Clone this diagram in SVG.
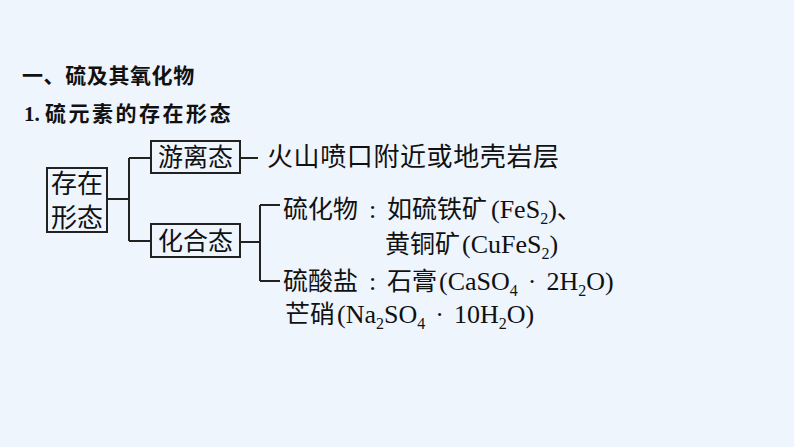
<svg xmlns="http://www.w3.org/2000/svg" width="794" height="447" viewBox="0 0 794 447">
<style>
.cjk{font-family:"Noto Sans CJK SC","Noto Sans CJK TC",sans-serif;fill:#111}
.lat{font-family:"Liberation Serif",serif;fill:#111}
.h{font-weight:bold}
.box{fill:none;stroke:#222;stroke-width:2}
.ln{fill:none;stroke:#222;stroke-width:2}
.sub{font-size:16px}
</style>
<rect width="794" height="447" fill="#eef5fd"/>
<g id="title">
<text x="22" y="82.5" class="cjk h" font-size="21" letter-spacing="0.6">一、硫及其氧化物</text>
<text y="120.5" font-size="21"><tspan x="24" class="lat h">1.</tspan><tspan x="45" class="cjk h" letter-spacing="2.5">硫元素的存在形态</tspan></text>
</g>
<g id="connectors">
<path class="ln" d="M107 199H129M129 158V241M129 158H151M129 241H151"/>
<path class="ln" d="M240 158H258"/>
<path class="ln" d="M240 242H260M260 205V281M260 205H280M260 281H280"/>
</g>
<g id="node-cunzai">
<rect class="box" x="47" y="168" width="60" height="64"/>
<text x="77" y="193" class="cjk" font-size="26" text-anchor="middle">存在</text>
<text x="77" y="227" class="cjk" font-size="26" text-anchor="middle">形态</text>
</g>
<g id="node-youli">
<rect class="box" x="151" y="141" width="89" height="32"/>
<text x="195.5" y="165.5" class="cjk" font-size="25" text-anchor="middle">游离态</text>
</g>
<g id="node-huahe">
<rect class="box" x="151" y="224" width="89" height="33"/>
<text x="195.5" y="250" class="cjk" font-size="25" text-anchor="middle">化合态</text>
</g>
<g id="node-volcano">
<text x="267" y="166" class="cjk" font-size="26" letter-spacing="0.6">火山喷口附近或地壳岩层</text>
</g>
<g id="node-sulfide">
<text y="218" font-size="25"><tspan x="283" class="cjk">硫化物</tspan><tspan x="369" class="lat" font-size="26">:</tspan><tspan x="387" class="cjk">如硫铁矿</tspan><tspan x="491" class="lat" font-size="26">(FeS</tspan><tspan class="lat sub" dy="6">2</tspan><tspan class="lat" font-size="26" dy="-6">)</tspan><tspan class="cjk">、</tspan></text>
<text y="253" font-size="25"><tspan x="385" class="cjk">黄铜矿</tspan><tspan x="462" class="lat" font-size="26">(CuFeS</tspan><tspan class="lat sub" dy="6">2</tspan><tspan class="lat" font-size="26" dy="-6">)</tspan></text>
</g>
<g id="node-sulfate">
<text y="290" font-size="25"><tspan x="283" class="cjk">硫酸盐</tspan><tspan x="369" class="lat" font-size="26">:</tspan><tspan x="387" class="cjk">石膏</tspan><tspan x="439" class="lat" font-size="26">(CaSO</tspan><tspan class="lat sub" dy="6">4</tspan><tspan class="lat" font-size="26" dy="-6" dx="10">·</tspan><tspan class="lat" font-size="26" dx="10">2H</tspan><tspan class="lat sub" dy="6">2</tspan><tspan class="lat" font-size="26" dy="-6">O)</tspan></text>
<text y="323" font-size="25"><tspan x="285" class="cjk">芒硝</tspan><tspan x="337" class="lat" font-size="26">(Na</tspan><tspan class="lat sub" dy="6">2</tspan><tspan class="lat" font-size="26" dy="-6">SO</tspan><tspan class="lat sub" dy="6">4</tspan><tspan class="lat" font-size="26" dy="-6" dx="10">·</tspan><tspan class="lat" font-size="26" dx="10">10H</tspan><tspan class="lat sub" dy="6">2</tspan><tspan class="lat" font-size="26" dy="-6">O)</tspan></text>
</g>
</svg>
